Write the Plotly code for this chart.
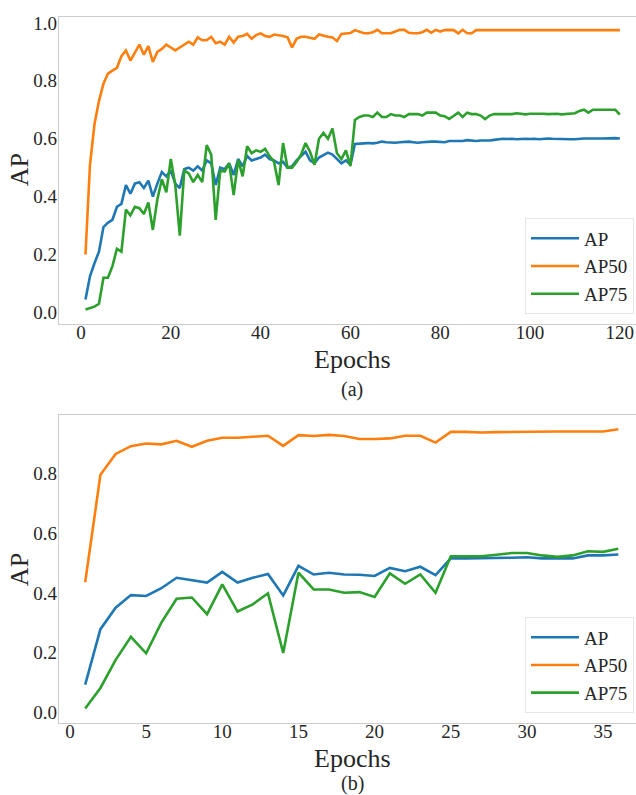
import plotly.graph_objects as go

# ---------------- data: chart (a), 120 epochs ----------------
epochs_a = list(range(1, 121))

ap_a = [
    0.045, 0.125, 0.170, 0.210, 0.295, 0.310, 0.320, 0.365, 0.375, 0.440,
    0.410, 0.445, 0.450, 0.430, 0.455, 0.400, 0.445, 0.485, 0.470, 0.490,
    0.445, 0.430, 0.495, 0.500, 0.490, 0.505, 0.490, 0.525, 0.515, 0.440,
    0.500, 0.495, 0.515, 0.475, 0.530, 0.505, 0.540, 0.525, 0.530, 0.535,
    0.545, 0.530, 0.525, 0.515, 0.520, 0.500, 0.505, 0.525, 0.540, 0.555,
    0.525, 0.515, 0.535, 0.545, 0.552, 0.545, 0.530, 0.515, 0.525, 0.510,
    0.582, 0.584, 0.584, 0.585, 0.584, 0.586, 0.590, 0.588, 0.586, 0.586,
    0.588, 0.590, 0.590, 0.588, 0.586, 0.588, 0.590, 0.590, 0.590, 0.588,
    0.588, 0.592, 0.592, 0.594, 0.592, 0.595, 0.593, 0.592, 0.594, 0.593,
    0.594, 0.596, 0.598, 0.600, 0.599, 0.600, 0.598, 0.600, 0.600, 0.599,
    0.600, 0.598, 0.600, 0.601, 0.600, 0.599, 0.600, 0.599, 0.598, 0.598,
    0.600, 0.601, 0.601, 0.600, 0.601, 0.601, 0.602, 0.602, 0.602, 0.601,
]

ap50_a = [
    0.200, 0.510, 0.650, 0.730, 0.790, 0.825, 0.835, 0.845, 0.885, 0.905,
    0.870, 0.900, 0.925, 0.890, 0.920, 0.865, 0.900, 0.910, 0.925, 0.915,
    0.905, 0.915, 0.925, 0.935, 0.925, 0.950, 0.940, 0.940, 0.952, 0.930,
    0.935, 0.925, 0.952, 0.932, 0.952, 0.955, 0.962, 0.945, 0.958, 0.964,
    0.955, 0.952, 0.960, 0.958, 0.955, 0.950, 0.915, 0.945, 0.952, 0.952,
    0.948, 0.945, 0.960, 0.955, 0.952, 0.950, 0.937, 0.962, 0.964, 0.965,
    0.975, 0.970, 0.964, 0.964, 0.968, 0.976, 0.964, 0.964, 0.964, 0.970,
    0.976, 0.976, 0.966, 0.964, 0.964, 0.968, 0.976, 0.966, 0.976, 0.970,
    0.975, 0.976, 0.975, 0.964, 0.976, 0.964, 0.964, 0.975, 0.976, 0.975,
    0.975, 0.976, 0.975, 0.975, 0.976, 0.975, 0.975, 0.975, 0.976, 0.975,
    0.975, 0.975, 0.975, 0.976, 0.975, 0.975, 0.975, 0.974, 0.975, 0.975,
    0.975, 0.975, 0.975, 0.975, 0.975, 0.975, 0.975, 0.975, 0.975, 0.975,
]

ap75_a = [
    0.010, 0.015, 0.020, 0.030, 0.120, 0.120, 0.160, 0.220, 0.210, 0.355,
    0.335, 0.365, 0.360, 0.340, 0.380, 0.285, 0.390, 0.460, 0.415, 0.530,
    0.440, 0.265, 0.490, 0.480, 0.450, 0.475, 0.450, 0.578, 0.545, 0.320,
    0.490, 0.487, 0.515, 0.405, 0.527, 0.470, 0.574, 0.550, 0.560, 0.555,
    0.565, 0.540, 0.520, 0.440, 0.585, 0.500, 0.500, 0.520, 0.545, 0.585,
    0.555, 0.510, 0.600, 0.620, 0.600, 0.635, 0.550, 0.530, 0.560, 0.505,
    0.665, 0.675, 0.680, 0.680, 0.675, 0.690, 0.675, 0.675, 0.685, 0.680,
    0.680, 0.675, 0.685, 0.685, 0.685, 0.680, 0.690, 0.690, 0.690, 0.680,
    0.678, 0.668, 0.680, 0.690, 0.675, 0.690, 0.685, 0.685, 0.680, 0.668,
    0.680, 0.685, 0.685, 0.685, 0.684, 0.685, 0.688, 0.686, 0.684, 0.686,
    0.686, 0.688, 0.686, 0.685, 0.686, 0.686, 0.684, 0.685, 0.688, 0.688,
    0.696, 0.700, 0.690, 0.700, 0.700, 0.700, 0.700, 0.700, 0.700, 0.683,
]

# ---------------- data: chart (b), 36 epochs ----------------
epochs_b = list(range(1, 37))

ap_b = [
    0.093, 0.279, 0.351, 0.393, 0.390, 0.416, 0.451, 0.443, 0.435, 0.471,
    0.435, 0.451, 0.464, 0.392, 0.491, 0.462, 0.468, 0.462, 0.461, 0.457,
    0.484, 0.473, 0.488, 0.460, 0.516, 0.516, 0.516, 0.518, 0.518, 0.520,
    0.516, 0.516, 0.516, 0.526, 0.526, 0.529,
]

ap50_b = [
    0.436, 0.796, 0.866, 0.892, 0.901, 0.898, 0.910, 0.890, 0.910, 0.920,
    0.920, 0.924, 0.927, 0.893, 0.929, 0.926, 0.930, 0.926, 0.916, 0.916,
    0.918, 0.927, 0.927, 0.904, 0.940, 0.940, 0.938, 0.939, 0.940, 0.941,
    0.940, 0.941, 0.941, 0.941, 0.941, 0.949,
]

ap75_b = [
    0.013, 0.082, 0.176, 0.253, 0.198, 0.301, 0.381, 0.385, 0.329, 0.429,
    0.338, 0.362, 0.399, 0.199, 0.468, 0.412, 0.412, 0.401, 0.403, 0.387,
    0.466, 0.431, 0.462, 0.401, 0.523, 0.523, 0.523, 0.528, 0.534, 0.534,
    0.526, 0.521, 0.526, 0.540, 0.538, 0.548,
]

series_names = ["AP", "AP50", "AP75"]
x_ticks_a = [0, 20, 40, 60, 80, 100, 120]
y_ticks_a = [0.0, 0.2, 0.4, 0.6, 0.8, 1.0]
x_ticks_b = [0, 5, 10, 15, 20, 25, 30, 35]
y_ticks_b = [0.0, 0.2, 0.4, 0.6, 0.8]

# ---------------- styling ----------------
COLORS = {"AP": "#1f77b4", "AP50": "#ff7f0e", "AP75": "#2ca02c"}
FONT = "Liberation Serif"
TXT = "#262626"
W, H = 636, 795


def fx(p):
    return p / W


def fy(p):
    return 1 - p / H


fig = go.Figure()
for name, vals in zip(series_names, [ap_a, ap50_a, ap75_a]):
    fig.add_trace(go.Scatter(
        x=epochs_a, y=vals, mode="lines", name=name,
        line=dict(color=COLORS[name], width=2.6),
        xaxis="x", yaxis="y", legend="legend",
    ))
for name, vals in zip(series_names, [ap_b, ap50_b, ap75_b]):
    fig.add_trace(go.Scatter(
        x=epochs_b, y=vals, mode="lines", name=name,
        line=dict(color=COLORS[name], width=2.6),
        xaxis="x2", yaxis="y2", legend="legend2",
    ))

axis_common = dict(
    showline=True, linecolor="#cccccc", linewidth=1.25,
    showgrid=False, zeroline=False, ticks="",
    tickfont=dict(family=FONT, size=19, color=TXT),
)
xaxis_extra = dict(ticklabelstandoff=-9)
yaxis_extra = dict(ticklabelstandoff=-3)

legend_common = dict(
    xanchor="right", yanchor="bottom",
    bgcolor="white", bordercolor="#e6e6e6", borderwidth=1,
    font=dict(family=FONT, size=19, color=TXT),
    itemwidth=48,
    itemclick=False, itemdoubleclick=False,
)

fig.update_layout(
    width=W, height=H,
    margin=dict(l=0, r=0, t=0, b=0),
    paper_bgcolor="white", plot_bgcolor="white",
    xaxis=dict(domain=[fx(59), 1], range=[-4.9, 123.6], tickvals=x_ticks_a,
               anchor="y", mirror=True, **axis_common, **xaxis_extra),
    yaxis=dict(domain=[fy(322), fy(13)], range=[-0.0412, 1.0206],
               tickvals=y_ticks_a, tickformat=".1f", anchor="x",
               **axis_common, **yaxis_extra),
    xaxis2=dict(domain=[fx(59), 1], range=[-0.72, 37.16], tickvals=x_ticks_b,
                anchor="y2", mirror=True, **axis_common, **xaxis_extra),
    yaxis2=dict(domain=[fy(723), fy(413)], range=[-0.0367, 0.9967],
                tickvals=y_ticks_b, tickformat=".1f", anchor="x2",
                **axis_common, **yaxis_extra),
    legend=dict(x=fx(634), y=fy(312), **legend_common),
    legend2=dict(x=fx(634), y=fy(713), **legend_common),
    showlegend=True,
)

annotations = [
    dict(text="AP", x=fx(19), y=fy(167), textangle=-90, size=26),
    dict(text="AP", x=fx(19), y=fy(569), textangle=-90, size=26),
    dict(text="Epochs", x=fx(352), y=fy(357), textangle=0, size=26),
    dict(text="Epochs", x=fx(352), y=fy(758), textangle=0, size=26),
    dict(text="(a)", x=fx(352), y=fy(387), textangle=0, size=20),
    dict(text="(b)", x=fx(352), y=fy(783), textangle=0, size=20),
]
for a in annotations:
    fig.add_annotation(
        text=a["text"], x=a["x"], y=a["y"], xref="paper", yref="paper",
        xanchor="center", yanchor="middle", showarrow=False,
        textangle=a["textangle"],
        font=dict(family=FONT, size=a["size"], color=TXT),
    )

fig.write_html("out.html")
